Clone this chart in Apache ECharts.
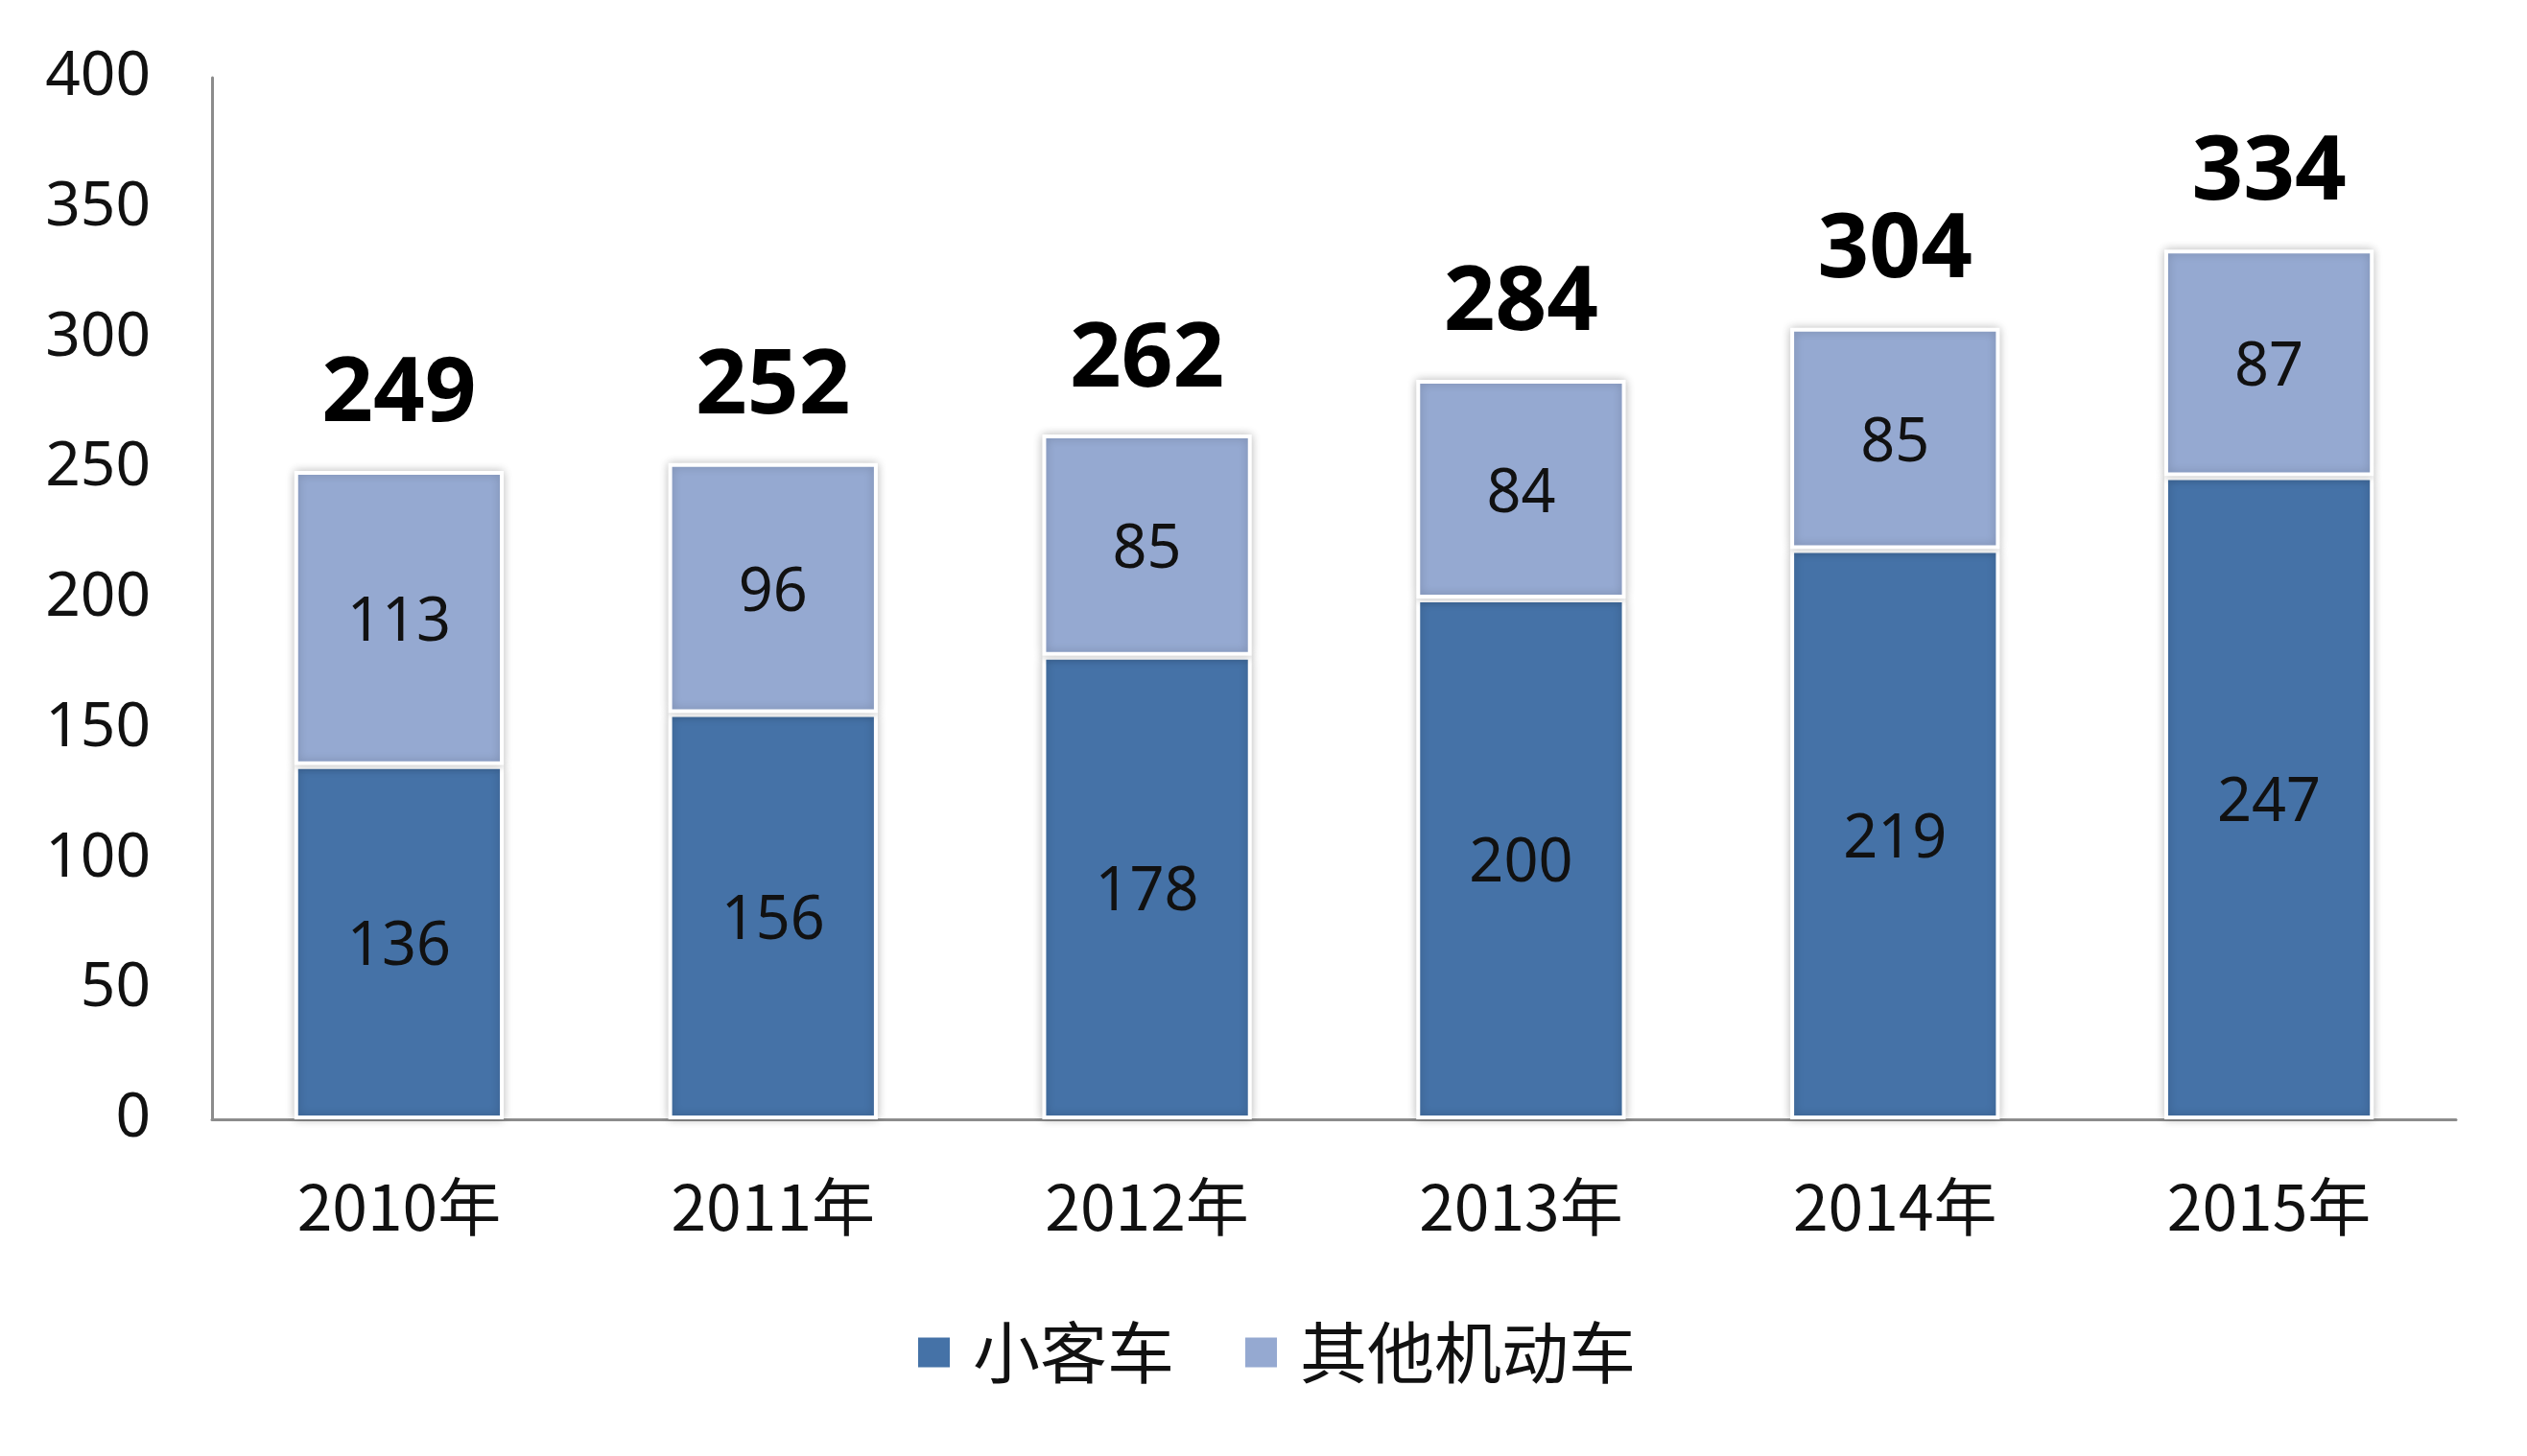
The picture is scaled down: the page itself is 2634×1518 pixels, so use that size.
<!DOCTYPE html>
<html>
<head>
<meta charset="utf-8">
<script src="https://cdn.jsdelivr.net/npm/echarts@6/dist/echarts.min.js"></script>
<style>
html,body{margin:0;padding:0;background:#fff;}
#chart{width:2634px;height:1518px;}
</style>
</head>
<body>
<div id="chart"></div>
<script>
const categories = ['2010年','2011年','2012年','2013年','2014年','2015年'];
const smallCars = [136,156,178,200,219,247];
const otherVehicles = [113,96,85,84,85,87];
const totals = [249,252,262,284,304,334];
const yTicks = [0,50,100,150,200,250,300,350,400];

const chart = echarts.init(document.getElementById('chart'));
const barStyle = (color) => ({
  color: color,
  borderColor: '#ffffff',
  borderWidth: 4,
  shadowColor: 'rgba(0,0,0,0.22)',
  shadowBlur: 10,
  shadowOffsetX: 0,
  shadowOffsetY: 0
});
const innerLabel = {
  show: true,
  position: 'inside',
  offset: [0, 6],
  fontFamily: 'Noto Sans',
  fontSize: 63,
  color: '#111'
};
chart.setOption({
  animation: false,
  backgroundColor: '#ffffff',
  grid: {left: 221, right: 74, top: 81, bottom: 1518 - 1167},
  legend: {
    data: ['小客车','其他机动车'],
    left: 950,
    top: 1370,
    icon: 'rect',
    itemWidth: 35,
    itemHeight: 33,
    itemGap: 72,
    textStyle: {fontFamily: 'Noto Sans CJK SC', fontSize: 70, color: '#111', padding: [0,0,0,18]}
  },
  xAxis: {
    type: 'category',
    data: categories,
    axisLine: {lineStyle: {color: '#8c8c8c', width: 3}},
    axisTick: {show: false},
    axisLabel: {fontFamily: 'Noto Sans CJK SC', fontSize: 66, color: '#111', margin: 58}
  },
  yAxis: {
    type: 'value',
    min: yTicks[0],
    max: yTicks[yTicks.length - 1],
    interval: yTicks[1] - yTicks[0],
    axisLine: {show: true, lineStyle: {color: '#8c8c8c', width: 3}},
    axisTick: {show: false},
    splitLine: {show: false},
    axisLabel: {fontFamily: 'Noto Sans', fontSize: 64, color: '#111', margin: 64}
  },
  series: [
    {
      name: '小客车', type: 'bar', stack: 'total', data: smallCars,
      barCategoryGap: '44%',
      itemStyle: barStyle('#4572A7'),
      label: innerLabel
    },
    {
      name: '其他机动车', type: 'bar', stack: 'total', data: otherVehicles,
      barCategoryGap: '44%',
      itemStyle: barStyle('#95A9D1'),
      label: innerLabel
    },
    {
      name: '合计', type: 'scatter', data: totals,
      symbol: 'circle',
      symbolSize: 2,
      itemStyle: {color: 'rgba(255,255,255,0)'},
      label: {
        show: true, position: 'top', distance: 31,
        fontFamily: 'Noto Sans', fontWeight: 'bold', fontSize: 94,
        color: '#000000', opacity: 1, textBorderWidth: 0,
        formatter: (p) => String(p.value)
      },
      z: 10
    }
  ]
});
</script>
</body>
</html>
